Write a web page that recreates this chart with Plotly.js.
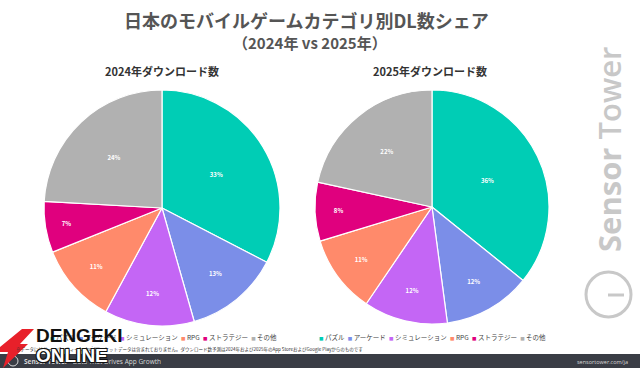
<!DOCTYPE html>
<html><head><meta charset="utf-8">
<script src="https://cdn.plot.ly/plotly-3.0.1.min.js"></script>
<style>html,body{margin:0;padding:0;background:#fff}#c{width:640px;height:368px}</style>
</head><body><div id="c"></div>
<script>
const categories = ["パズル","アーケード","シミュレーション","RPG","ストラテジー","その他"];
const colors = ["#00CDB5","#7B8EE8","#C466F5","#FF8A6B","#E0007E","#B1B1B1"];
const values2024 = [32.6, 13.0, 12.3, 11.0, 7.0, 24.1];
const values2025 = [35.8, 12.1, 11.6, 10.8, 8.1, 21.6];
const titleMain = "日本のモバイルゲームカテゴリ別DL数シェア";
const titleSub = "（2024年 vs 2025年）";
const subTitles = ["2024年ダウンロード数","2025年ダウンロード数"];

const W=640,H=368;
const X=p=>p/W, Y=p=>1-p/H;
const JP = '"Noto Sans CJK JP","Noto Sans",sans-serif';

function pie(vals, cx, cy, r){
  return {type:'pie', values:vals, labels:categories, sort:false, direction:'clockwise', rotation:0,
    marker:{colors:colors, line:{color:'#fff', width:1.2}},
    texttemplate:'%{percent:.0%}', textposition:'inside', insidetextorientation:'horizontal',
    textfont:{color:'#fff', size:6, family:JP, weight:'bold'},
    hoverinfo:'label+percent', showlegend:false,
    domain:{x:[X(cx-r),X(cx+r)], y:[Y(cy+r),Y(cy-r)]}};
}
const data=[pie(values2024,162,208,118), pie(values2025,432,207,117)];

function legendText(){
  return categories.map((c,i)=>'<span style="color:'+colors[i]+';font-size:4.5px">■</span> '+c).join('\u2002');
}
const ann=[
  {text:'<b>'+titleMain+'</b>', x:X(306), y:Y(20), font:{size:18,color:'#555',family:JP}},
  {text:'<b>'+titleSub+'</b>', x:X(310), y:Y(42.5), font:{size:15,color:'#555',family:JP}},
  {text:'<b>'+subTitles[0]+'</b>', x:X(162), y:Y(71), font:{size:11,color:'#333',family:JP}},
  {text:'<b>'+subTitles[1]+'</b>', x:X(430), y:Y(71), font:{size:11,color:'#333',family:JP}},
  {text:legendText(), x:X(163), y:Y(337), font:{size:6.5,color:'#444',family:JP}},
  {text:legendText(), x:X(432), y:Y(337), font:{size:6.5,color:'#444',family:JP}},
  {text:'※データにはサードパーティーAndroidマーケットデータは含まれておりません。ダウンロード数予測は2024年および2025年のApp StoreおよびGoogle Playからのものです',
    x:X(14), y:Y(349), xanchor:'left', font:{size:4.5,color:'#333',family:JP}},
  {text:'<b>Sensor Tower</b>   Data That Drives App Growth', x:X(22), y:Y(361.5), xanchor:'left', font:{size:6.5,color:'#d8d8d8',family:'"Open Sans",sans-serif'}},
  {text:'sensortower.com/ja', x:X(630), y:Y(361.5), xanchor:'right', font:{size:5.5,color:'#d8d8d8',family:'"Open Sans",sans-serif'}},
  {text:'<b>Sensor</b> Tower', x:X(609), y:Y(150), textangle:-90, font:{size:31,color:'#c8c8c8',weight:600,family:'"Open Sans",sans-serif'}},
  {text:'<b>DENGEKI</b>', x:X(34), y:Y(335), xanchor:'left', font:{size:19,color:'#111',family:'"Liberation Sans",Arial,sans-serif'}},
  {text:'<b>ONLINE</b>', x:X(34), y:Y(355), xanchor:'left', font:{size:19,color:'#fff',family:'"Liberation Sans",Arial,sans-serif', shadow:'1px 1px 0 #111, -1px -1px 0 #111, 1px -1px 0 #111, -1px 1px 0 #111'}}
].map(a=>Object.assign({xref:'paper',yref:'paper',showarrow:false,xanchor:'center',yanchor:'middle'},a));

const path = pts => 'M'+pts.map(p=>X(p[0])+','+Y(p[1])).join(' L')+' Z';
const shapes=[
  {type:'rect', xref:'paper', yref:'paper', x0:0, x1:1, y0:0, y1:Y(354), fillcolor:'#3a3d45', line:{width:0}, layer:'below'},
  {type:'circle', xref:'paper', yref:'paper', x0:X(586), x1:X(631), y0:Y(317), y1:Y(272), line:{color:'#c8c8c8', width:3}},
  {type:'line', xref:'paper', yref:'paper', x0:X(608), x1:X(624), y0:Y(295), y1:Y(295), line:{color:'#c8c8c8', width:3}},
  {type:'circle', xref:'paper', yref:'paper', x0:X(8), x1:X(18), y0:Y(366), y1:Y(356), line:{color:'#d8d8d8', width:1}},
  {type:'path', xref:'paper', yref:'paper', path:path([[22,329],[34,329],[20,344],[28,344],[3,368],[8,352],[0,352],[0,347]]), fillcolor:'#e8202a', line:{width:0}}
];

Plotly.newPlot('c', data, {width:W,height:H,margin:{l:0,r:0,t:0,b:0},paper_bgcolor:'#fff',
  annotations:ann, shapes:shapes}, {staticPlot:true});
</script></body></html>
